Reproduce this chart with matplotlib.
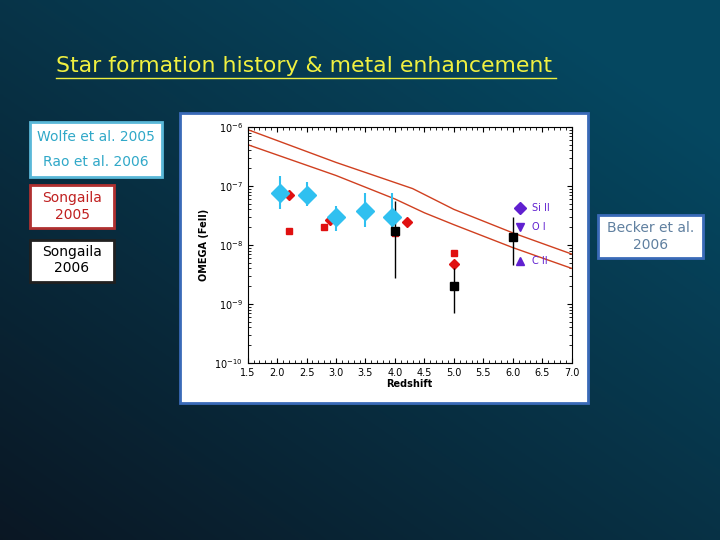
import numpy as np
import matplotlib.pyplot as plt
from matplotlib.patches import Rectangle

# cyan diamonds (Wolfe / Rao)
cz = [2.05, 2.5, 3.0, 3.5, 3.95]
cv = [7.5e-8, 7.0e-8, 3.0e-8, 3.7e-8, 3.0e-8]
clo = [4.0e-8, 4.5e-8, 1.7e-8, 2.0e-8, 1.8e-8]
chi = [1.5e-7, 1.15e-7, 4.6e-8, 7.5e-8, 7.5e-8]
# Songaila 2005 red diamonds and squares
rdz = [2.2, 2.9, 4.2, 5.0]
rdv = [7.0e-8, 2.6e-8, 2.4e-8, 4.8e-9]
rsz = [2.2, 2.8, 4.0, 5.0]
rsv = [1.7e-8, 2.0e-8, 1.6e-8, 7.2e-9]
# Songaila 2006 black squares
bz = [4.0, 5.0, 6.0]
bv = [1.7e-8, 2.0e-9, 1.35e-8]
blo = [2.8e-9, 7.0e-10, 4.5e-9]
bhi = [5.5e-8, 4.0e-9, 3.0e-8]
# model curves
lz = [1.5, 3.0, 4.3, 5.0, 6.0, 7.0]
lup = [9.0e-7, 2.5e-7, 9.0e-8, 4.0e-8, 1.6e-8, 7.0e-9]
lz2 = [1.5, 3.0, 4.0, 4.5, 5.0, 6.0, 7.0]
llo = [5.0e-7, 1.5e-7, 6.0e-8, 3.5e-8, 2.2e-8, 9.0e-9, 4.0e-9]
# legend entries
leg_y = [4.2e-8, 2.0e-8, 5.3e-9]
leg_m = ["D", "v", "^"]
leg_s = ["Si II", "O I", "C II"]

fig = plt.figure(figsize=(7.2, 5.4), dpi=100)

# background gradient
bg = fig.add_axes([0, 0, 1, 1], zorder=-10)
xx, yy = np.meshgrid(np.linspace(0, 1, 200), np.linspace(0, 1, 200))
t = np.clip(0.55 * xx + 0.6 * yy, 0, 1)
c0 = np.array([0.04, 0.09, 0.14]); c1 = np.array([0.02, 0.28, 0.38])
img = c0[None, None, :] * (1 - t[..., None]) + c1[None, None, :] * t[..., None]
bg.imshow(img, origin="lower", extent=[0, 1, 0, 1], aspect="auto")
bg.set_axis_off()

fig.text(0.078, 0.866, "Star formation history & metal enhancement", color="#f0f040",
         fontsize=15.8, fontfamily="DejaVu Sans", va="baseline")
fig.add_artist(plt.Line2D([0.078, 0.772], [0.856, 0.856], color="#f0f040", lw=1))

# white panel
fig.add_artist(Rectangle((0.25, 0.254), 0.567, 0.537, transform=fig.transFigure,
                         facecolor="white", edgecolor="#3a6ab8", lw=2, zorder=0))

def box(x0, y0, x1, y1, ec, lines, tc):
    fig.add_artist(Rectangle((x0 / 720, 1 - y1 / 540), (x1 - x0) / 720, (y1 - y0) / 540,
                             transform=fig.transFigure, facecolor="white", edgecolor=ec, lw=2))
    for ty, s in lines:
        fig.text((x0 + x1) / 1440, 1 - ty / 540, s, color=tc, ha="center", va="center", fontsize=10)

box(30, 122, 162, 177, "#5ab8d8", [(137, "Wolfe et al. 2005"), (162, "Rao et al. 2006")], "#30a8c8")
box(30, 185, 114, 228, "#b03030", [(198, "Songaila"), (215, "2005")], "#c02020")
box(30, 240, 114, 282, "#202020", [(252, "Songaila"), (268, "2006")], "black")
box(598, 215, 703, 258, "#3a6ab8", [(228, "Becker et al."), (245, "2006")], "#6080a0")

ax = fig.add_axes([0.344, 0.328, 0.45, 0.437])
ax.set_yscale("log")
ax.set_xlim(1.5, 7.0); ax.set_ylim(1e-10, 1e-6)
ax.set_xticks(np.arange(1.5, 7.01, 0.5))
ax.set_xticklabels([f"{v:.1f}" for v in np.arange(1.5, 7.01, 0.5)], fontsize=7)
ax.tick_params(labelsize=7, direction="in", top=True, right=True, which="both")
ax.minorticks_on()
ax.set_xlabel("Redshift", fontsize=7, fontweight="bold", labelpad=1)
ax.set_ylabel("OMEGA (FeII)", fontsize=7, fontweight="bold")

ax.plot(lz, lup, color="#d04020", lw=1)
ax.plot(lz2, llo, color="#d04020", lw=1)

ax.errorbar(cz, cv, yerr=[np.array(cv) - clo, np.array(chi) - cv], fmt="D", color="#30c0f0",
            ms=9, elinewidth=1.5, capsize=0)
ax.plot(rdz, rdv, "D", color="#e01010", ms=5)
ax.plot(rsz, rsv, "s", color="#e01010", ms=5)
ax.errorbar(bz, bv, yerr=[np.array(bv) - blo, np.array(bhi) - bv], fmt="s", color="black",
            ms=6, elinewidth=1, capsize=0)

for y, m, s in zip(leg_y, leg_m, leg_s):
    ax.plot([6.12], [y], m, color="#6020d0", ms=6)
    ax.text(6.32, y, s, color="#6020d0", fontsize=7, va="center")

fig.savefig("out.png", dpi=100)
